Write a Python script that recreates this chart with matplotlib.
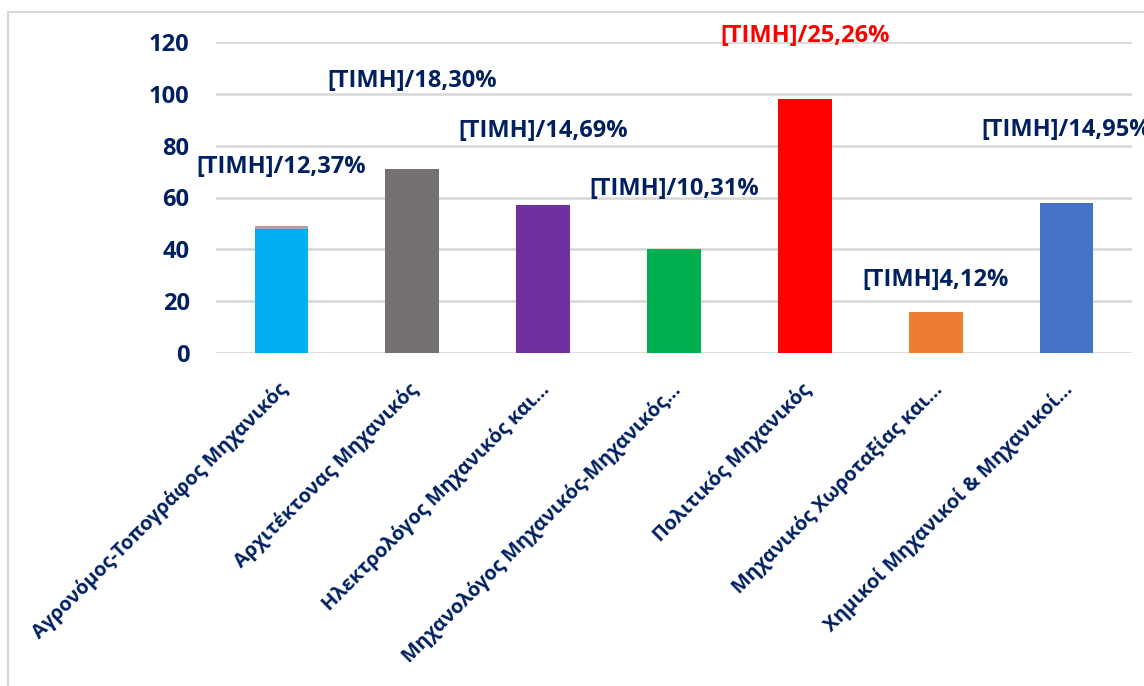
import matplotlib.pyplot as plt
from matplotlib.patches import Rectangle
import matplotlib.transforms as mtransforms

# data
categories = [
    "Αγρονόμος-Τοπογράφος Μηχανικός",
    "Αρχιτέκτονας Μηχανικός",
    "Ηλεκτρολόγος Μηχανικός και…",
    "Μηχανολόγος Μηχανικός-Μηχανικός…",
    "Πολιτικός Μηχανικός",
    "Μηχανικός Χωροταξίας και…",
    "Χημικοί Μηχανικοί & Μηχανικοί…",
]
values = [48, 71, 57, 40, 98, 16, 58]
extra = [1, 0, 0, 0, 0, 0, 0]
labels = [
    "[ΤΙΜΗ]/12,37%",
    "[ΤΙΜΗ]/18,30%",
    "[ΤΙΜΗ]/14,69%",
    "[ΤΙΜΗ]/10,31%",
    "[ΤΙΜΗ]/25,26%",
    "[ΤΙΜΗ]4,12%",
    "[ΤΙΜΗ]/14,95%",
]
yticks = [0, 20, 40, 60, 80, 100, 120]

# styling
bar_colors = ["#00B0F0", "#767171", "#7030A0", "#00B050", "#FF0000", "#ED7D31", "#4472C4"]
label_colors = ["#002060", "#002060", "#002060", "#002060", "#FF0000", "#002060", "#002060"]
label_offsets = [34, 55, 45, 35, 37, 14, 44]  # points above bar top
navy = "#002060"
grid_gray = "#D9D9D9"

plt.rcParams['font.family'] = ['Open Sans', 'DejaVu Sans']

fig = plt.figure(figsize=(11.44, 6.86), dpi=100)
ax = fig.add_axes([216/1144, 1-353/686, (1132-216)/1144, (353-42)/686])

# chart frame
fig.patches.append(Rectangle((8/1144, -0.1), 1.2, 1-12/686+0.1, transform=fig.transFigure,
                             fill=False, edgecolor=grid_gray, lw=1.5))

x = list(range(len(categories)))
ax.bar(x, values, width=0.41, color=bar_colors, zorder=3)
ax.bar(x, extra, bottom=values, width=0.41, color="#A5A5A5", zorder=3)

for i, v in enumerate(values):
    ax.annotate(labels[i], (x[i], v + extra[i]), xytext=(0, label_offsets[i]),
                textcoords='offset points', ha='center', va='bottom',
                fontsize=17, fontweight='bold', color=label_colors[i],
                annotation_clip=False)

ax.set_xlim(-0.5, len(categories) - 0.5)
ax.set_ylim(0, 120)
ax.set_yticks(yticks)
ax.set_yticklabels([str(t) for t in yticks], fontsize=17, fontweight='bold', color=navy)
ax.set_xticks(x)
ax.set_xticklabels(categories, rotation=45, ha='right', va='top', rotation_mode='anchor',
                   fontsize=14.3, fontweight='bold', color=navy)
ax.tick_params(axis='both', length=0)
ax.tick_params(axis='y', pad=19)
ax.tick_params(axis='x', pad=19)
ax.yaxis.grid(True, color=grid_gray, lw=2, zorder=0)
ax.set_axisbelow(True)
for s in ax.spines.values():
    s.set_visible(False)

# nudge x labels slightly left like the original
offset = mtransforms.ScaledTranslation(-4/100, 0, fig.dpi_scale_trans)
for lab in ax.get_xticklabels():
    lab.set_transform(lab.get_transform() + offset)

fig.savefig("out.png", dpi=100)
